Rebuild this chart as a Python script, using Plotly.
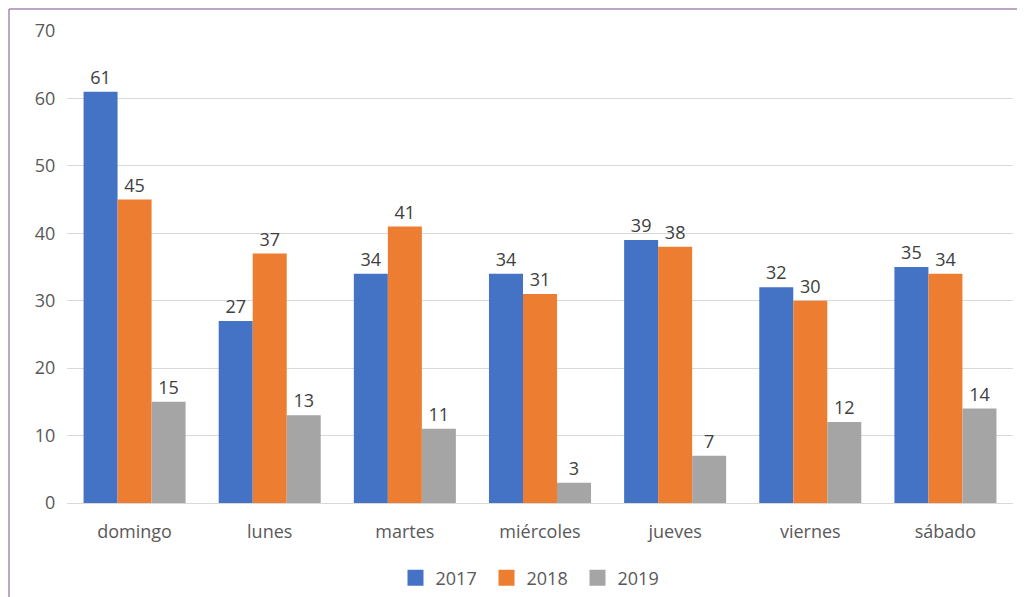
import plotly.graph_objects as go

categories = ["domingo", "lunes", "martes", "miércoles", "jueves", "viernes", "sábado"]
series_names = ["2017", "2018", "2019"]
values_2017 = [61, 27, 34, 34, 39, 32, 35]
values_2018 = [45, 37, 41, 31, 38, 30, 34]
values_2019 = [15, 13, 11, 3, 7, 12, 14]
colors = ["#4472C4", "#ED7D31", "#A5A5A5"]
y_ticks = [0, 10, 20, 30, 40, 50, 60, 70]

FONT = "Open Sans, DejaVu Sans, sans-serif"
FS = 18

fig = go.Figure()
for name, vals, col in zip(series_names, [values_2017, values_2018, values_2019], colors):
    fig.add_trace(go.Bar(
        x=categories, y=vals, name=name, showlegend=False, legendgroup=name,
        marker=dict(color=col, line=dict(width=0)),
        text=[str(v) for v in vals], textposition="outside",
        textfont=dict(family=FONT, size=FS, color="#404040"),
        cliponaxis=False,
    ))
# legend entries with larger square swatches
for name, col in zip(series_names, colors):
    fig.add_trace(go.Scatter(
        x=[None], y=[None], name=name, legendgroup=name, mode="markers",
        marker=dict(symbol="square", size=17, color=col),
    ))

# page body has an 8px margin, so the figure is sized to fill the rest of the window
W, H = 1017, 589
L, T = 59, 23
pw, ph = 946, 472
R, B = W - L - pw, H - T - ph

fig.update_layout(
    width=W, height=H,
    margin=dict(l=L, r=R, t=T, b=B, autoexpand=False),
    paper_bgcolor="white", plot_bgcolor="white",
    barmode="group", bargap=0.245, bargroupgap=0,
    font=dict(family=FONT, size=FS, color="#595959"),
    legend=dict(orientation="h", x=0.5 - 8 / pw, xanchor="center", y=(ph - (570 - T)) / ph, yanchor="middle",
                font=dict(family=FONT, size=FS, color="#595959"), itemsizing="trace",
                itemwidth=30, entrywidth=46, traceorder="normal"),
    xaxis=dict(showgrid=False, showline=True, linecolor="#d9d9d9", linewidth=1, automargin=False,
               ticks="outside", ticklen=12, tickcolor="rgba(0,0,0,0)",
               tickfont=dict(family=FONT, size=FS, color="#595959")),
    yaxis=dict(range=[0, 70], tickvals=y_ticks, showgrid=True, gridcolor="#d9d9d9", gridwidth=1,
               zeroline=False, showline=False, automargin=False,
               ticks="outside", ticklen=7, tickcolor="rgba(0,0,0,0)",
               tickfont=dict(family=FONT, size=FS, color="#595959")),
    shapes=[
        dict(type="line", xref="paper", yref="paper",
             x0=(1 - L) / pw, x1=(W - L) / pw, y0=(ph + T - 1) / ph, y1=(ph + T - 1) / ph,
             line=dict(color="#a787b4", width=1.5)),
        dict(type="line", xref="paper", yref="paper",
             x0=(1 - L) / pw, x1=(1 - L) / pw, y0=(ph + T - 1) / ph, y1=-B / ph,
             line=dict(color="#a787b4", width=1.5)),
    ],
)

fig.write_html("out.html")
